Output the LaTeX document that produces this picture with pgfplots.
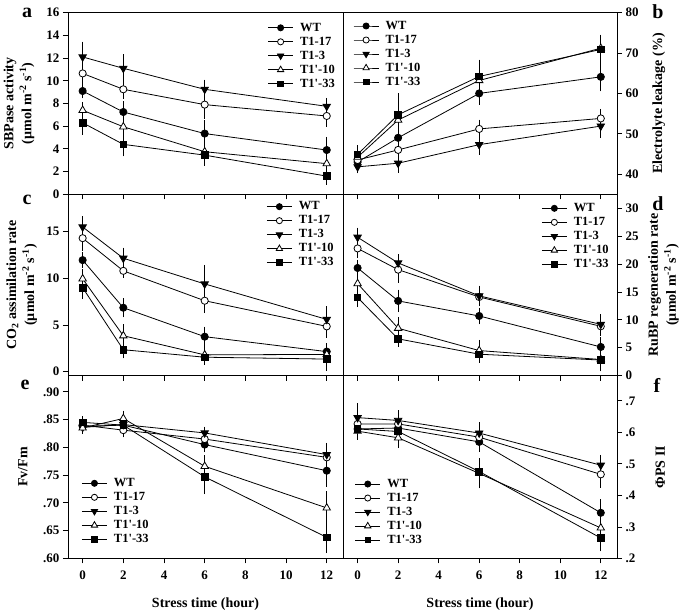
\documentclass[border=0pt]{standalone}
\usepackage{fontspec}
\setmainfont{Liberation Serif}
\usepackage{pgfplots}
\pgfplotsset{compat=1.18}
\usepackage{pgfplotstable}

% columns: x, then y and error for WT, T1-17, T1-3, T1'-10, T1'-33
\pgfplotstableread{
x wt wte t17 t17e t3 t3e t10 t10e t33 t33e
0 9.1 0.3 10.65 0.95 12.1 1.0 7.4 0.4 6.3 0.7
2 7.25 0.6 9.25 0.5 11.1 0.9 5.95 0.35 4.4 0.7
6 5.35 0.8 7.9 0.9 9.25 0.5 3.75 0.5 3.45 0.6
12 3.9 0.8 6.9 0.6 7.75 0.4 2.7 0.5 1.6 0.4
}\tA
\pgfplotstableread{
x wt wte t17 t17e t3 t3e t10 t10e t33 t33e
0 43.0 0.9 43.5 1.0 41.8 0.6 44.2 1.0 44.9 1.2
2 49.0 1.8 46.0 1.3 42.7 1.4 53.4 2.0 54.7 4.4
6 60.0 1.8 51.2 1.3 47.3 1.5 63.2 1.5 64.2 3.2
12 64.1 2.6 53.8 1.4 51.9 2.0 71.2 2.2 70.9 2.7
}\tB
\pgfplotstableread{
x wt wte t17 t17e t3 t3e t10 t10e t33 t33e
0 11.95 0.4 14.3 0.9 15.5 0.7 9.95 0.6 9.0 0.8
2 6.85 0.6 10.8 0.3 12.15 0.7 3.85 0.8 2.35 0.5
6 3.75 0.65 7.6 0.9 9.4 1.6 1.8 0.5 1.55 0.4
12 2.15 0.45 4.85 0.8 5.6 1.0 1.85 0.5 1.35 0.8
}\tC
\pgfplotstableread{
x wt wte t17 t17e t3 t3e t10 t10e t33 t33e
0 19.3 0.8 22.8 1.0 24.8 1.0 16.5 0.9 14.0 1.0
2 13.4 1.3 19.0 1.6 20.2 0.8 8.5 1.3 6.6 0.7
6 10.7 0.8 14.1 0.9 14.3 1.1 4.5 1.2 3.85 0.8
12 5.15 1.0 8.85 1.0 9.2 1.1 2.9 1.4 2.8 1.1
}\tD
\pgfplotstableread{
x wt wte t17 t17e t3 t3e t10 t10e t33 t33e
0 0.838 0.004 0.840 0.004 0.836 0.004 0.835 0.004 0.845 0.004
2 0.840 0.005 0.831 0.006 0.841 0.005 0.852 0.007 0.840 0.004
6 0.805 0.007 0.815 0.004 0.826 0.004 0.766 0.013 0.747 0.024
12 0.758 0.022 0.782 0.008 0.787 0.014 0.691 0.023 0.638 0.021
}\tE
\pgfplotstableread{
x wt wte t17 t17e t3 t3e t10 t10e t33 t33e
0 0.611 0.015 0.627 0.015 0.647 0.033 0.604 0.015 0.611 0.015
2 0.614 0.015 0.627 0.015 0.638 0.020 0.583 0.020 0.603 0.015
6 0.570 0.020 0.585 0.020 0.598 0.022 0.470 0.035 0.476 0.030
12 0.345 0.030 0.467 0.030 0.496 0.020 0.297 0.030 0.265 0.030
}\tF

\pgfplotsset{
  panel/.style={
    scale only axis, anchor=south west,
    xmin=-0.72, xmax=12.8, xtick={0,2,4,6,8,10,12},
    tick align=outside, xtick pos=bottom, major tick length=5pt,
    axis line style={line width=1pt},
    every tick/.style={line width=0.9pt, black},
    tick label style={font=\fontsize{13}{13}\selectfont\bfseries},
    xticklabel style={yshift=-4pt},
    label style={font=\fontsize{14}{18}\selectfont\bfseries, align=center},
    /pgf/number format/assume math mode=true,
    legend cell align=left,
    legend style={draw=none, fill=none, font=\fontsize{12.5}{14}\selectfont\bfseries,
      inner sep=0pt, row sep=0.5pt,
      nodes={inner xsep=1pt, inner ysep=1.5pt, text height=8.5pt, text depth=2pt}},
    legend image code/.code={%
      \path[use as bounding box, draw=none, fill=none] (0pt,-3pt) rectangle (31pt,3pt);
      \draw[mark repeat=2, mark phase=2, ##1, every mark/.append style={scale=0.85}]
        plot coordinates {(0pt,0pt) (12.5pt,0pt) (25pt,0pt)};},
  },
  lpanel/.style={panel, width=275pt, ytick pos=left},
  rpanel/.style={panel, width=274pt, ytick pos=right, yticklabel pos=right},
  eb/.style={error bars/.cd, y dir=both, y explicit, error bar style={line width=0.8pt, black}, error mark options={black, mark size=4pt, line width=0.8pt}},
  swt/.style={black, line width=0.8pt, mark=*, mark size=3.6pt, mark options={solid, fill=black}},
  st17/.style={black, line width=0.8pt, mark=*, mark size=3.6pt, mark options={solid, fill=white}},
  st3/.style={black, line width=0.8pt, mark=triangle*, mark size=4.3pt, mark options={solid, fill=black, rotate=180}},
  st10/.style={black, line width=0.8pt, mark=triangle*, mark size=4.3pt, mark options={solid, fill=white}},
  st33/.style={black, line width=0.8pt, mark=square*, mark size=3.3pt, mark options={solid, fill=black}},
}

\newcommand{\fiveplots}[1]{%
  \addplot[swt, eb] table[x=x, y=wt, y error=wte] {#1};
  \addplot[st17, eb] table[x=x, y=t17, y error=t17e] {#1};
  \addplot[st3, eb] table[x=x, y=t3, y error=t3e] {#1};
  \addplot[st10, eb] table[x=x, y=t10, y error=t10e] {#1};
  \addplot[st33, eb] table[x=x, y=t33, y error=t33e] {#1};
  \legend{WT, T1-17, T1-3, T1\textquotesingle-10, T1\textquotesingle-33}
}

\begin{document}
\begin{tikzpicture}[x=1pt, y=1pt]
\path[use as bounding box] (0,0) rectangle (685,612);

% panel a
\begin{axis}[lpanel, at={(68pt,417.7pt)}, height=181.6pt,
  ymin=0, ymax=16, ytick={0,2,...,16}, xticklabels={},
  ylabel={SBPase activity\\(\textmu mol m\textsuperscript{-2} s\textsuperscript{-1})},
  ylabel style={at={(axis description cs:-0.178,0.5)}, anchor=center},
  legend style={at={(axis description cs:0.727,0.955)}, anchor=north west}]
\fiveplots{\tA}
\end{axis}

% panel b
\begin{axis}[rpanel, at={(343pt,417.7pt)}, height=181.6pt,
  ymin=35, ymax=80, ytick={40,50,...,80}, xticklabels={},
  ylabel={Electrolyte leakage (\%)},
  ylabel style={at={(axis description cs:1.153,0.5)}, anchor=center},
  legend style={at={(axis description cs:0.038,0.965)}, anchor=north west}]
\fiveplots{\tB}
\end{axis}

% panel c
\begin{axis}[lpanel, at={(68pt,236.3pt)}, height=181.4pt,
  ymin=-0.43, ymax=19, ytick={0,5,10,15}, xticklabels={},
  ylabel={CO\textsubscript{2} assimilation rate\\(\textmu mol m\textsuperscript{-2} s\textsuperscript{-1})},
  ylabel style={at={(axis description cs:-0.168,0.5)}, anchor=center},
  legend style={at={(axis description cs:0.7225,0.970)}, anchor=north west}]
\fiveplots{\tC}
\end{axis}

% panel d
\begin{axis}[rpanel, at={(343pt,236.3pt)}, height=181.4pt,
  ymin=0, ymax=32.5, ytick={0,5,...,30}, xticklabels={},
  ylabel={RuBP regeneration rate\\(\textmu mol m\textsuperscript{-2} s\textsuperscript{-1})},
  ylabel style={at={(axis description cs:1.170,0.5)}, anchor=center},
  legend style={at={(axis description cs:0.725,0.961)}, anchor=north west}]
\fiveplots{\tD}
\end{axis}

% panel e
\begin{axis}[lpanel, at={(68pt,53.5pt)}, height=182.8pt,
  ymin=0.6, ymax=0.929, ytick={0.6,0.65,...,0.91},
  yticklabels={.60,.65,.70,.75,.80,.85,.90},
  ylabel={Fv/Fm},
  ylabel style={at={(axis description cs:-0.164,0.5)}, anchor=center},
  xlabel={Stress time (hour)},
  xlabel style={at={(axis description cs:0.5,-0.25)}, anchor=center},
  legend style={at={(axis description cs:0.05,0.067)}, anchor=south west}]
\fiveplots{\tE}
\end{axis}

% panel f
\begin{axis}[rpanel, at={(343pt,53.5pt)}, height=182.8pt,
  ymin=0.2, ymax=0.78, ytick={0.2,0.3,...,0.71},
  yticklabels={.2,.3,.4,.5,.6,.7},
  ylabel={ΦPS II},
  ylabel style={at={(axis description cs:1.158,0.5)}, anchor=center},
  xlabel={Stress time (hour)},
  xlabel style={at={(axis description cs:0.5,-0.25)}, anchor=center},
  legend style={at={(axis description cs:0.044,0.063)}, anchor=south west}]
\fiveplots{\tF}
\end{axis}

\begin{scope}[font=\fontsize{20}{20}\selectfont\bfseries]
\node at (27,599) {a};
\node at (27,412) {c};
\node at (25,227) {e};
\node at (658,600) {b};
\node at (658,408) {d};
\node at (657,227) {f};
\end{scope}
\end{tikzpicture}
\end{document}
